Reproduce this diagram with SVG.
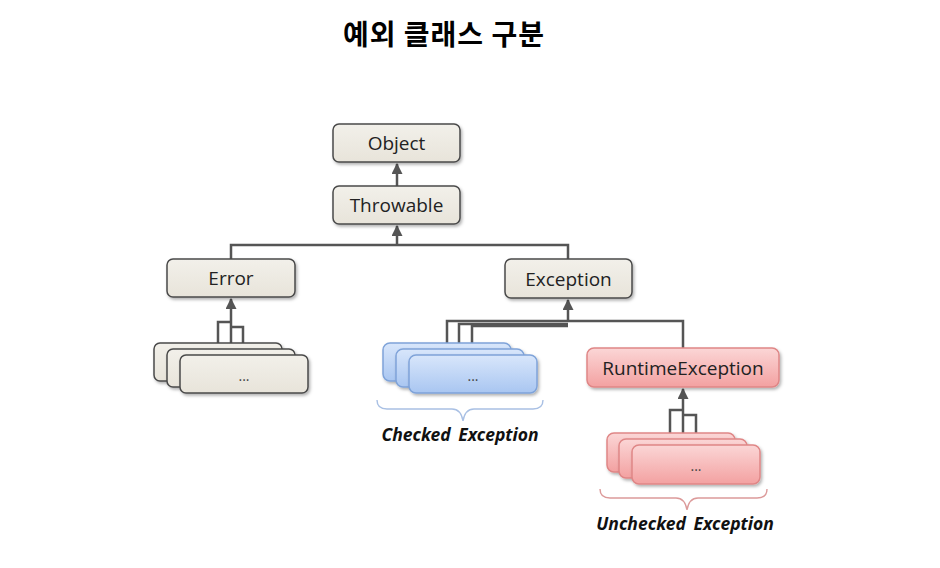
<svg xmlns="http://www.w3.org/2000/svg" width="940" height="568" viewBox="0 0 940 568">
<defs>
<linearGradient id="gBeige" x1="0" y1="0" x2="0" y2="1"><stop offset="0" stop-color="#f2f0ea"/><stop offset="1" stop-color="#e8e4da"/></linearGradient>
<linearGradient id="gBlue" x1="0" y1="0" x2="0" y2="1"><stop offset="0" stop-color="#d8e6fb"/><stop offset="1" stop-color="#a9c6f1"/></linearGradient>
<linearGradient id="gPink" x1="0" y1="0" x2="0" y2="1"><stop offset="0" stop-color="#fbd6d6"/><stop offset="1" stop-color="#f3a1a1"/></linearGradient>
<filter id="sh" x="-10%" y="-10%" width="130%" height="140%"><feDropShadow dx="1.5" dy="2" stdDeviation="1.5" flood-color="#000" flood-opacity="0.3"/></filter>
<marker id="arr" viewBox="0 0 10 10" refX="9" refY="5" markerWidth="11" markerHeight="11" markerUnits="userSpaceOnUse" orient="auto">
<path d="M0,0 L10,5 L0,10 Z" fill="#555"/>
</marker>
<style>
.n{fill:url(#gBeige);stroke:#4a4a4a;stroke-width:1.5;filter:url(#sh)}
.b{fill:url(#gBlue);stroke:#7fa3d9;stroke-width:1.5;filter:url(#sh)}
.p{fill:url(#gPink);stroke:#df8686;stroke-width:1.5;filter:url(#sh)}
.t{font-family:"Open Sans","Noto Sans",sans-serif;font-size:19px;fill:#222;text-anchor:middle;dominant-baseline:central}
.d{font-family:"Open Sans","Noto Sans",sans-serif;font-size:14px;fill:#444;text-anchor:middle;dominant-baseline:central}
.c{fill:none;stroke:#555;stroke-width:2.5}
.br{fill:none;stroke:#a9c0e4;stroke-width:1.4}
.brp{fill:none;stroke:#dc9a9a;stroke-width:1.4}
.lab{font-family:"Noto Sans","Open Sans",sans-serif;font-size:17.5px;font-weight:bold;font-style:italic;fill:#111;text-anchor:middle;word-spacing:3px}
</style>
</defs>
<rect width="940" height="568" fill="#fff"/>
<text x="444" y="45" font-family="'Noto Sans CJK KR',sans-serif" font-size="28" font-weight="bold" letter-spacing="1" text-anchor="middle" fill="#000">예외 클래스 구분</text>

<g id="connectors">
<path class="c" d="M397,186 V164" marker-end="url(#arr)"/>
<path class="c" d="M231,259 V245 H568 V259"/>
<path class="c" d="M397,245 V226" marker-end="url(#arr)"/>
<path class="c" d="M231,349 V299" marker-end="url(#arr)"/>
<path class="c" d="M218,343 V322 H231"/>
<path class="c" d="M243,355 V327 H231"/>
<path class="c" d="M568,322 V300" marker-end="url(#arr)"/>
<path class="c" d="M447,343 V321 H683 V348"/>
<path class="c" d="M459,349 V324 H568"/>
<path class="c" d="M472,355 V326 H568"/>
<path class="c" d="M683,438 V389" marker-end="url(#arr)"/>
<path class="c" d="M670,433 V410 H683"/>
<path class="c" d="M696,444 V415 H683"/>
</g>

<g id="object"><rect class="n" x="333" y="124" width="127" height="38" rx="6"/><text class="t" x="396.5" y="143">Object</text></g>
<g id="throwable"><rect class="n" x="333" y="186" width="127" height="38" rx="6"/><text class="t" x="396.5" y="205">Throwable</text></g>
<g id="error"><rect class="n" x="167" y="259" width="128" height="38" rx="6"/><text class="t" x="231" y="278">Error</text></g>
<g id="exception"><rect class="n" x="505" y="259" width="127" height="39" rx="6"/><text class="t" x="568.5" y="278.5">Exception</text></g>
<g id="runtime"><rect class="p" x="587" y="348" width="192" height="39" rx="7"/><text class="t" x="683" y="368">RuntimeException</text></g>

<g id="error-subs">
<rect class="n" x="154" y="343" width="128" height="38" rx="6"/>
<rect class="n" x="167" y="349" width="128" height="38" rx="6"/>
<rect class="n" x="180" y="355" width="128" height="38" rx="6"/>
<text class="d" x="244" y="375">...</text>
</g>

<g id="checked-subs">
<rect class="b" x="383" y="343" width="128" height="38" rx="7"/>
<rect class="b" x="396" y="349" width="128" height="38" rx="7"/>
<rect class="b" x="409" y="355" width="128" height="38" rx="7"/>
<text class="d" x="473" y="375">...</text>
<path class="br" d="M377,400 Q377,409 387,409 H452 Q461,409 463,421 Q465,409 474,409 H533 Q543,409 543,400"/>
<text class="lab" x="460" y="441">Checked Exception</text>
</g>

<g id="unchecked-subs">
<rect class="p" x="607" y="433" width="128" height="39" rx="7"/>
<rect class="p" x="619" y="439" width="128" height="39" rx="7"/>
<rect class="p" x="632" y="445" width="128" height="39" rx="7"/>
<text class="d" x="696" y="465">...</text>
<path class="brp" d="M600,489 Q600,498 610,498 H676 Q685,498 687,510 Q689,498 698,498 H757 Q767,498 767,489"/>
<text class="lab" x="685" y="530">Unchecked Exception</text>
</g>
</svg>
